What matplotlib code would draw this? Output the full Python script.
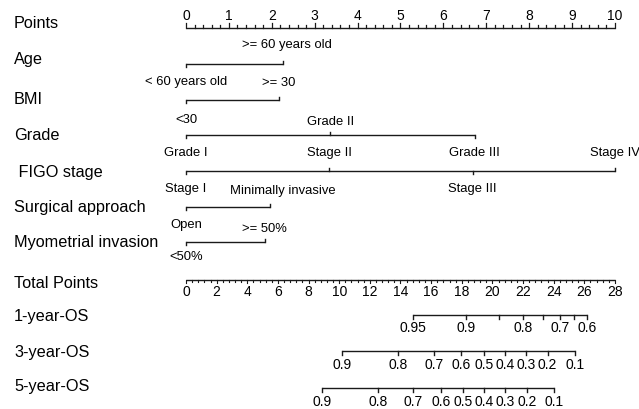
import matplotlib
matplotlib.use("Agg")
import matplotlib.pyplot as plt
import numpy as np

plt.rcParams['font.family'] = ['Liberation Sans', 'DejaVu Sans']

# ---------------- data ----------------
row_names = ["Points", "Age", "BMI", "Grade", " FIGO stage", "Surgical approach",
             "Myometrial invasion", "Total Points", "1-year-OS", "3-year-OS", "5-year-OS"]

age_levels = ["< 60 years old", ">= 60 years old"]
age_points = [0, 2.27]
bmi_levels = ["<30", ">= 30"]
bmi_points = [0, 2.17]
grade_levels = ["Grade I", "Grade II", "Grade III"]
grade_points = [0, 3.36, 6.73]
figo_levels = ["Stage I", "Stage II", "Stage III", "Stage IV"]
figo_points = [0, 3.34, 6.68, 10]
surg_levels = ["Open", "Minimally invasive"]
surg_points = [0, 1.96]
myo_levels = ["<50%", ">= 50%"]
myo_points = [0, 1.84]

points_max = 10
total_max = 28

os1_probs = [0.95, 0.9, 0.85, 0.8, 0.75, 0.7, 0.65, 0.6]
os1_total = [14.8, 18.3, 20.46, 22.0, 23.3, 24.4, 25.3, 26.15]
os1_labels = ["0.95", "0.9", "", "0.8", "", "0.7", "", "0.6"]
os3_probs = [0.9, 0.8, 0.7, 0.6, 0.5, 0.4, 0.3, 0.2, 0.1]
os3_total = [10.16, 13.86, 16.19, 17.95, 19.47, 20.82, 22.19, 23.6, 25.4]
os5_probs = [0.9, 0.8, 0.7, 0.6, 0.5, 0.4, 0.3, 0.2, 0.1]
os5_total = [8.86, 12.51, 14.84, 16.62, 18.1, 19.47, 20.82, 22.26, 24.04]

# ---------------- layout ----------------
W, H = 639, 409
fig = plt.figure(figsize=(W / 100, H / 100), dpi=100)
ax = fig.add_axes([0, 0, 1, 1])
px_per_pt = 42.9
x0px = 186
ax.set_xlim(-x0px / px_per_pt, (W - x0px) / px_per_pt)
ax.set_ylim(H, 0)
ax.axis('off')

LC = '#1a1a1a'
LW = 1.0
name_fs = 11.7
lvl_fs = 9.4
tick_fs = 10

row_y = [27.5, 63.5, 100, 134.5, 170.8, 206.5, 242, 279.5, 314.5, 351, 388]
name_y = [28.5, 64, 104.5, 140.5, 177.5, 212, 246.5, 288, 321.5, 357.5, 391.5]
# vertical offsets (px) of the level labels above / below each variable line
above_off = [-15.5, -14, -9.5, -14.5, -12.5, -9.5]
below_off = [22, 23, 21.8, 21, 21.3, 18]
# small horizontal nudges (px) of some level labels
nudge_px = {">= 60 years old": 4, "Minimally invasive": 13}

def tp2pts(v):
    return np.asarray(v, dtype=float) * points_max / total_max

for name, yb in zip(row_names, name_y):
    ax.text(-172 / px_per_pt, yb, name, fontsize=name_fs, ha='left', va='baseline', color='black')

# Points axis
y = row_y[0]
ax.plot([0, points_max], [y, y], color=LC, lw=LW, solid_capstyle='butt')
minor = np.arange(0, points_max + 1e-9, 0.2)
for m in minor:
    major = abs(m - round(m)) < 1e-6
    ax.plot([m, m], [y, y - (4.5 if major else 2.2)], color=LC, lw=LW * 0.9)
for t in range(0, points_max + 1):
    ax.text(t, y - 7, str(t), fontsize=tick_fs, ha='center', va='baseline')

# variable rows
def var_row(i, levels, pts, sides):
    y = row_y[i]
    ax.plot([min(pts), max(pts)], [y, y], color=LC, lw=LW, solid_capstyle='butt')
    for lv, p, s in zip(levels, pts, sides):
        xt = p + nudge_px.get(lv, 0) / px_per_pt
        if s == 'up':
            ax.plot([p, p], [y, y - 3], color=LC, lw=LW)
            ax.text(xt, y + above_off[i - 1], lv, fontsize=lvl_fs, ha='center', va='baseline')
        else:
            ax.plot([p, p], [y, y + 3], color=LC, lw=LW)
            ax.text(xt, y + below_off[i - 1], lv, fontsize=lvl_fs, ha='center', va='baseline')

var_row(1, age_levels, age_points, ['down', 'up'])
var_row(2, bmi_levels, bmi_points, ['down', 'up'])
var_row(3, grade_levels, grade_points, ['down', 'up', 'down'])
var_row(4, figo_levels, figo_points, ['down', 'up', 'down', 'up'])
var_row(5, surg_levels, surg_points, ['down', 'up'])
var_row(6, myo_levels, myo_points, ['down', 'up'])

# Total points axis
y = row_y[7]
ax.plot([0, points_max], [y, y], color=LC, lw=LW, solid_capstyle='butt')
for m in np.arange(0, total_max + 1e-9, 0.4):
    major = abs(m / 2 - round(m / 2)) < 1e-6
    xm = tp2pts(m)
    ax.plot([xm, xm], [y, y + (3 if major else 2)], color=LC, lw=LW * 0.8)
for t in range(0, total_max + 1, 2):
    ax.text(tp2pts(t), y + 17, str(t), fontsize=tick_fs, ha='center', va='baseline')

# survival axes
def surv_row(y, totals, labels):
    xs = tp2pts(totals)
    ax.plot([xs.min(), xs.max()], [y, y], color=LC, lw=LW, solid_capstyle='butt')
    for xv, lb in zip(xs, labels):
        ax.plot([xv, xv], [y, y + 4], color=LC, lw=LW)
        if lb:
            ax.text(xv, y + 18, lb, fontsize=tick_fs, ha='center', va='baseline')

surv_row(row_y[8], os1_total, os1_labels)
surv_row(row_y[9], os3_total, [f"{p:g}" for p in os3_probs])
surv_row(row_y[10], os5_total, [f"{p:g}" for p in os5_probs])

fig.savefig("out.png", dpi=100)
